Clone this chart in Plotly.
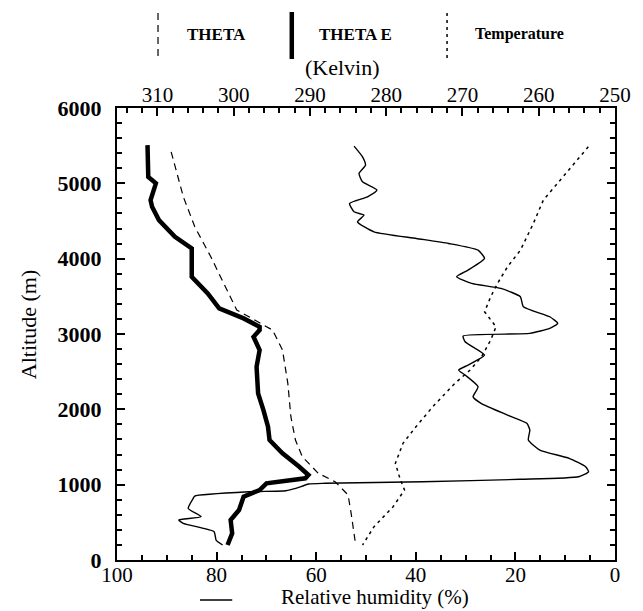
import plotly.graph_objects as go

# ---- data ----
theta_e_alt = [5507, 5086, 5000, 4777, 4688, 4512, 4290, 4136, 3759, 3539, 3340, 3207, 3096, 3052, 2963, 2787, 2565, 2212, 1990, 1769, 1592, 1416, 1238, 1128, 1084, 1018, 929, 840, 663, 531, 354, 199]
theta_e_k = [311.3, 311.2, 310.2, 310.9, 310.7, 309.8, 307.7, 305.5, 305.5, 303.4, 301.9, 298.7, 296.6, 296.6, 297.4, 296.6, 297.0, 296.8, 296.1, 295.5, 295.3, 293.6, 291.4, 290.2, 290.6, 295.7, 296.6, 298.7, 299.3, 300.4, 300.2, 300.8]

theta_alt = [5418, 4821, 4423, 4025, 3672, 3318, 3229, 3052, 2787, 2345, 1902, 1592, 1371, 1150, 1039, 900, 863, 620, 199]
theta_k = [308.2, 306.6, 305.1, 303.0, 301.3, 299.6, 298.0, 294.9, 293.6, 292.9, 292.5, 291.9, 291.0, 288.9, 286.7, 285.4, 285.0, 284.6, 284.0]

temp_alt = [5485, 5131, 4777, 4468, 4113, 3892, 3672, 3494, 3295, 3096, 2919, 2698, 2521, 2345, 2034, 1769, 1549, 1283, 1084, 929, 707, 442, 199]
temp_k = [253.5, 256.4, 259.4, 260.7, 262.4, 264.1, 265.4, 266.3, 267.1, 265.6, 266.3, 267.5, 269.0, 271.0, 273.9, 276.1, 277.8, 278.8, 278.2, 277.6, 279.1, 281.6, 283.1]

rh_alt = [5494, 5352, 5242, 5131, 5020, 4910, 4821, 4733, 4622, 4578, 4489, 4356, 4268, 4202, 4113, 4003, 3848, 3759, 3672, 3605, 3494, 3361, 3229, 3141, 3075, 3008, 2973, 2897, 2720, 2588, 2521, 2455, 2300, 2167, 2079, 1924, 1814, 1725, 1592, 1460, 1350, 1238, 1172, 1105, 1071, 1039, 1018, 1008, 951, 920, 906, 849, 818, 686, 575, 531, 487, 376, 265, 199]
rh_pct = [52.4, 50.7, 50.1, 51.4, 50.7, 47.8, 49.7, 53.3, 52.4, 50.4, 51.7, 48.4, 39.9, 33.4, 27.5, 26.2, 29.5, 31.8, 28.8, 22.9, 19.0, 18.4, 13.1, 11.5, 13.1, 17.1, 30.5, 30.1, 26.2, 29.5, 31.4, 30.1, 27.5, 28.5, 26.9, 21.6, 17.7, 17.1, 17.4, 15.1, 9.2, 5.9, 5.3, 7.3, 19.0, 38.6, 58.2, 61.5, 64.1, 66.1, 73.3, 84.4, 84.7, 85.7, 83.1, 87.6, 86.7, 80.5, 80.1, 78.8]

alt_ticks = [0, 1000, 2000, 3000, 4000, 5000, 6000]
rh_ticks = [100, 80, 60, 40, 20, 0]
k_ticks = [310, 300, 290, 280, 270, 260, 250]

FONT = "Liberation Serif, Times New Roman, serif"

fig = go.Figure()
fig.add_trace(go.Scatter(x=rh_pct, y=rh_alt, mode="lines", name="Relative humidity (%)",
                         line=dict(color="black", width=1.4, shape="spline", smoothing=0.5), xaxis="x", yaxis="y"))
fig.add_trace(go.Scatter(x=theta_k, y=theta_alt, mode="lines", name="THETA",
                         line=dict(color="black", width=1.2, dash="7px,5px"), xaxis="x2", yaxis="y"))
fig.add_trace(go.Scatter(x=theta_e_k, y=theta_e_alt, mode="lines", name="THETA E",
                         line=dict(color="black", width=4.5), xaxis="x2", yaxis="y"))
fig.add_trace(go.Scatter(x=temp_k, y=temp_alt, mode="lines", name="Temperature",
                         line=dict(color="black", width=1.5, dash="3px,4px"), xaxis="x2", yaxis="y"))

axis_common = dict(showline=True, linecolor="black", linewidth=2, showgrid=False, zeroline=False,
                   ticks="inside", ticklen=8, tickwidth=1.5, tickcolor="black")

fig.update_layout(
    width=643, height=611,
    margin=dict(l=117, r=16, t=108, b=51),
    paper_bgcolor="white", plot_bgcolor="white",
    showlegend=False,
    font=dict(family=FONT, color="black", size=21),
    xaxis=dict(range=[100, 0], tickvals=rh_ticks, ticktext=[str(v) for v in rh_ticks],
               minor=dict(dtick=5, ticks="inside", ticklen=5, tickcolor="black"),
               tickfont=dict(size=21), ticklabelstandoff=-5, **axis_common),
    xaxis2=dict(range=[315.3, 250], overlaying="x", side="top", tickvals=k_ticks,
                ticktext=[str(v) for v in k_ticks],
                minor=dict(dtick=2, ticks="inside", ticklen=5, tickcolor="black"),
                tickfont=dict(size=21), ticklabelstandoff=-4, **axis_common),
    yaxis=dict(range=[0, 6000], tickvals=alt_ticks, ticktext=[str(v) for v in alt_ticks],
               mirror="ticks", minor=dict(dtick=200, ticks="inside", ticklen=5, tickcolor="black"),
               tickfont=dict(size=22, weight="bold"), ticklabelstandoff=9, **axis_common),
)

def px(x):
    return (x - 117) / 510

def py(y):
    return (560 - y) / 452

shapes = [
    dict(type="line", xref="paper", yref="paper", x0=px(159), x1=px(159), y0=py(13), y1=py(57),
         line=dict(color="black", width=1.2, dash="7px,5px")),
    dict(type="line", xref="paper", yref="paper", x0=px(296), x1=px(296), y0=py(12), y1=py(59),
         line=dict(color="black", width=4.5)),
    dict(type="line", xref="paper", yref="paper", x0=px(455), x1=px(455), y0=py(13), y1=py(58),
         line=dict(color="black", width=1.5, dash="3px,4px")),
    dict(type="line", xref="paper", yref="paper", x0=px(202), x1=px(235), y0=py(600), y1=py(600),
         line=dict(color="black", width=1.5)),
]
ann = [
    dict(text="<b>THETA</b>", x=px(187), y=py(34), xanchor="left", yanchor="middle", font=dict(size=17)),
    dict(text="<b>THETA E</b>", x=px(322), y=py(34), xanchor="left", yanchor="middle", font=dict(size=17)),
    dict(text="<b>Temperature</b>", x=px(482), y=py(34), xanchor="left", yanchor="middle", font=dict(size=16)),
    dict(text="(Kelvin)", x=px(348), y=py(67), xanchor="center", yanchor="middle", font=dict(size=22)),
    dict(text="Relative humidity (%)", x=px(283), y=py(597), xanchor="left", yanchor="middle", font=dict(size=21)),
    dict(text="Altitude (m)", x=px(26), y=py(325), xanchor="center", yanchor="middle", textangle=-90, font=dict(size=22)),
]
for a in ann:
    a.update(xref="paper", yref="paper", showarrow=False)
fig.update_layout(shapes=shapes, annotations=ann)

fig.write_html("out.html")
